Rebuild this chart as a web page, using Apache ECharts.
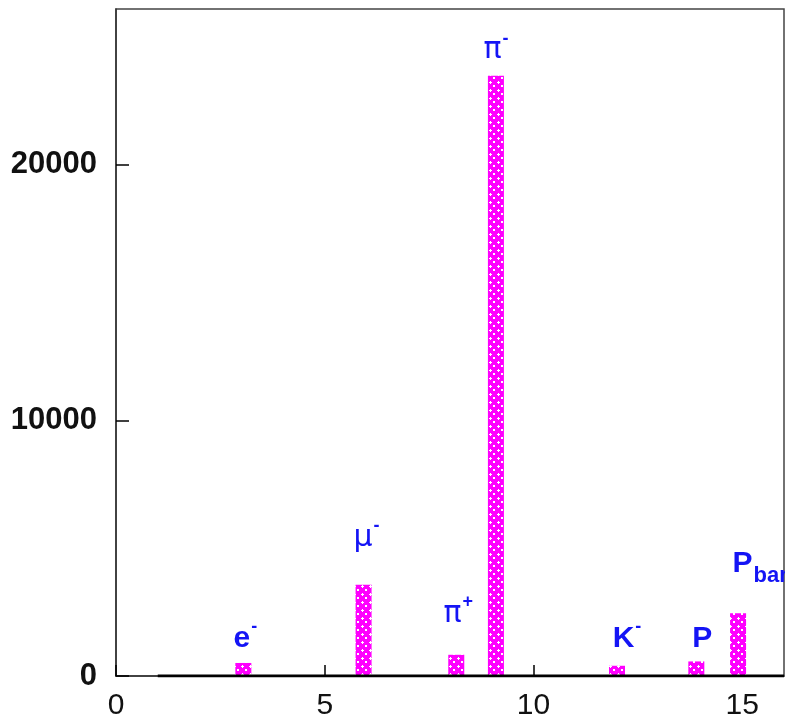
<!DOCTYPE html>
<html>
<head>
<meta charset="utf-8">
<script src="https://cdn.jsdelivr.net/npm/echarts@6/dist/echarts.min.js"></script>
<style>
  html, body { margin: 0; padding: 0; background: #ffffff; }
  #chart { width: 785px; height: 721px; }
</style>
</head>
<body>
<div id="chart"></div>
<script>
// Particle yields: bin position and number of entries
const particleX = [3.05, 5.93, 8.15, 9.1, 12.0, 13.9, 14.9];
const counts = [510, 3570, 830, 23490, 400, 570, 2460];
const particleLabels = [
  '{b|e}{sup|-}',
  '{g|\u03bc}{sup|-}',
  '{g|\u03c0}{sup|+}',
  '{g|\u03c0}{sup|-}',
  '{b|K}{sup|-}',
  '{b|P}',
  '{b|P}{sub|bar}'
];
const xTicks = [0, 5, 10, 15];
const yTicks = [0, 10000, 20000];
const baseline = [[1, 0], [16, 0]];

// Label placement above each bar: [distance, horizontal offset]
const labelPlace = [
  [9, 2], [32, 3], [26, 2], [10, 0], [12, 10], [8, 6], [34, 22]
];

// Magenta fill with a sparse white dot/cross texture
function makeTexture() {
  const c = document.createElement('canvas');
  c.width = 8; c.height = 8;
  const g = c.getContext('2d');
  g.fillStyle = '#ff00ff';
  g.fillRect(0, 0, 8, 8);
  g.fillStyle = '#ffffff';
  g.fillRect(2, 1, 1, 3);
  g.fillRect(1, 2, 3, 1);
  g.fillRect(5, 5, 2, 2);
  return c;
}
const texture = makeTexture();

const blue = '#1414f5';
const rich = {
  b: { fontFamily: 'Liberation Sans, Arial, sans-serif', fontWeight: 'bold', fontSize: 30, color: blue, lineHeight: 32, verticalAlign: 'bottom' },
  g: { fontFamily: 'DejaVu Sans, sans-serif', fontSize: 30, color: blue, lineHeight: 32, verticalAlign: 'bottom' },
  sup: { fontFamily: 'Liberation Sans, Arial, sans-serif', fontWeight: 'bold', fontSize: 18, color: blue, lineHeight: 18, padding: [0, 0, 18, 1], verticalAlign: 'bottom' },
  sub: { fontFamily: 'Liberation Sans, Arial, sans-serif', fontWeight: 'bold', fontSize: 22, color: blue, lineHeight: 22, padding: [0, 0, -8, 1], verticalAlign: 'bottom' }
};

const barData = particleX.map((x, i) => ({
  value: [x, counts[i]],
  label: {
    show: true,
    position: 'top',
    distance: labelPlace[i][0],
    offset: [labelPlace[i][1], 0],
    formatter: particleLabels[i],
    rich: rich
  }
}));

const chart = echarts.init(document.getElementById('chart'), null, { renderer: 'canvas' });
chart.setOption({
  animation: false,
  backgroundColor: '#ffffff',
  grid: {
    left: 116, right: 1, top: 9, bottom: 44,
    show: true, borderColor: '#444444', borderWidth: 1.5
  },
  xAxis: {
    type: 'value', min: 0, max: 16,
    axisLine: { show: true, onZero: false, lineStyle: { color: '#333333', width: 1.5 } },
    axisTick: { show: true, inside: true, length: 11, customValues: xTicks, lineStyle: { color: '#000000', width: 1.5 } },
    axisLabel: {
      customValues: xTicks, margin: 15,
      formatter: v => String(v),
      fontFamily: 'Liberation Sans, Arial, sans-serif', fontSize: 30, color: '#111111'
    },
    splitLine: { show: false }
  },
  yAxis: {
    type: 'value', min: 0, max: 26100,
    axisLine: { show: true, lineStyle: { color: '#333333', width: 1.5 } },
    axisTick: { show: true, inside: true, length: 13, customValues: yTicks, lineStyle: { color: '#000000', width: 1.5 } },
    axisLabel: {
      customValues: yTicks, margin: 19,
      formatter: v => String(v),
      fontFamily: 'Liberation Sans, Arial, sans-serif', fontWeight: 'bold', fontSize: 31, color: '#111111'
    },
    splitLine: { show: false }
  },
  series: [
    {
      type: 'bar',
      data: barData,
      barWidth: 16,
      itemStyle: { color: { image: texture, repeat: 'repeat' } },
      z: 2
    },
    {
      type: 'line',
      data: baseline,
      showSymbol: false,
      symbol: 'none',
      lineStyle: { color: '#000000', width: 3 },
      z: 3,
      silent: true
    }
  ]
});
</script>
</body>
</html>
